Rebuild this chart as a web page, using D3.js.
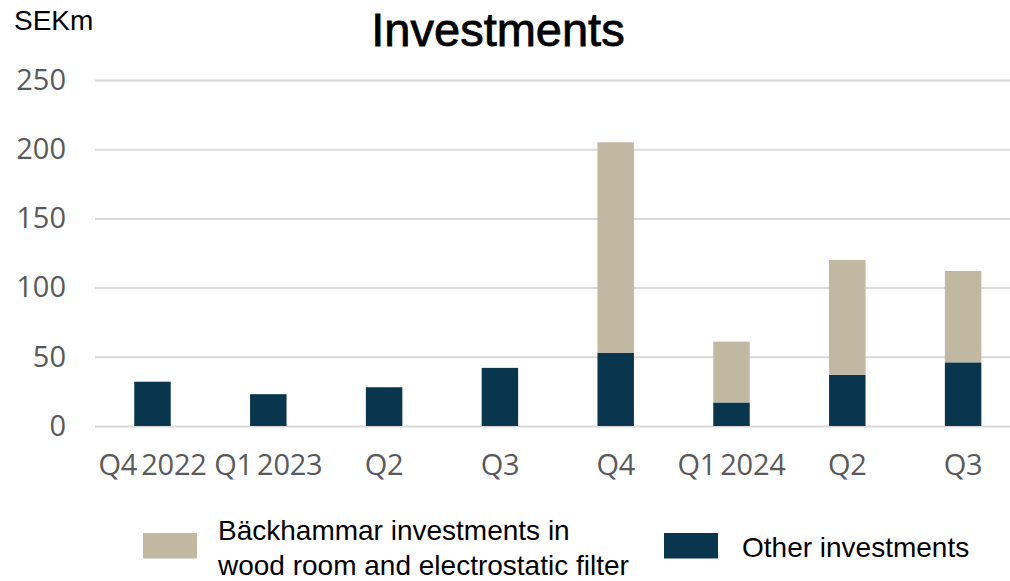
<!DOCTYPE html>
<html>
<head>
<meta charset="utf-8">
<script src="https://cdn.jsdelivr.net/npm/d3@7/dist/d3.min.js"></script>
<style>
  html, body { margin: 0; padding: 0; background: #fff; }
  svg { display: block; }
</style>
</head>
<body>
<svg id="chart" width="1010" height="581"></svg>
<script>
// Quarterly investments, SEKm
const quarters = ["Q4 2022", "Q1 2023", "Q2 2023", "Q3 2023", "Q4 2023", "Q1 2024", "Q2 2024", "Q3 2024"];
const quarterLabels = ["Q4 2022", "Q1 2023", "Q2", "Q3", "Q4", "Q1 2024", "Q2", "Q3"];
const otherInvestments = [32, 23, 28, 42, 53, 17, 37, 46];
const backhammarInvestments = [0, 0, 0, 0, 152, 44, 83, 66];
const yTicks = [0, 50, 100, 150, 200, 250];
const seriesKeys = ["other", "backhammar"];
const seriesNames = {
  backhammar: ["Bäckhammar investments in", "wood room and electrostatic filter"],
  other: ["Other investments"]
};

const rows = quarters.map((q, i) => ({
  quarter: q,
  other: otherInvestments[i],
  backhammar: backhammarInvestments[i]
}));

const svg = d3.select("#chart");
const W = 1010;

const x = d3.scaleBand()
  .domain(quarters)
  .range([94.6, 1021])
  .paddingInner(0.685)
  .paddingOuter(0.3425);

const y = d3.scaleLinear()
  .domain([0, 250])
  .range([426, 80]);

const color = d3.scaleOrdinal()
  .domain(seriesKeys)
  .range(["#0a364d", "#c0b8a0"]);

// Horizontal gridlines
svg.append("g")
  .attr("transform", "translate(95,0)")
  .call(d3.axisRight(y).tickValues(yTicks).tickSize(W - 95).tickFormat(""))
  .call(g => g.select(".domain").remove())
  .call(g => g.selectAll("line").attr("stroke", "#d9d9d9").attr("stroke-width", 2));

// Y axis labels
svg.append("g")
  .attr("transform", "translate(95,0)")
  .call(d3.axisLeft(y).tickValues(yTicks).tickSize(0).tickPadding(29))
  .call(g => g.select(".domain").remove())
  .call(g => g.selectAll("text")
    .attr("fill", "#595959")
    .style("font-family", "'Open Sans', sans-serif")
    .style("font-size", "29px"));

// Stacked bars
const stacked = d3.stack().keys(seriesKeys)(rows);
svg.append("g")
  .selectAll("g")
  .data(stacked)
  .join("g")
  .attr("fill", d => color(d.key))
  .selectAll("rect")
  .data(d => d.filter(s => s[1] > s[0]))
  .join("rect")
  .attr("x", d => x(d.data.quarter))
  .attr("width", x.bandwidth())
  .attr("y", d => y(d[1]))
  .attr("height", d => y(d[0]) - y(d[1]));

// X axis labels
svg.append("g")
  .attr("transform", "translate(0,426)")
  .call(d3.axisBottom(x).tickSize(0).tickPadding(28)
    .tickFormat((d, i) => quarterLabels[i]))
  .call(g => g.select(".domain").remove())
  .call(g => g.selectAll("text")
    .attr("fill", "#595959")
    .style("font-family", "'Open Sans', sans-serif")
    .style("font-size", "29px")
    .style("letter-spacing", "-0.3px")
    .style("word-spacing", "-3px"));

// Title and unit
svg.append("text")
  .attr("x", 498).attr("y", 46)
  .attr("text-anchor", "middle")
  .style("font-family", "'Liberation Sans', Arial, sans-serif")
  .style("font-size", "47px")
  .attr("fill", "#000")
  .attr("stroke", "#000")
  .attr("stroke-width", 0.8)
  .text("Investments");

svg.append("text")
  .attr("x", 14).attr("y", 30)
  .style("font-family", "'Liberation Sans', Arial, sans-serif")
  .style("font-size", "28px")
  .attr("fill", "#000")
  .text("SEKm");

// Legend
const legendItems = [
  { key: "backhammar", sx: 143, tx: 218 },
  { key: "other", sx: 664, tx: 742 }
];
const legend = svg.append("g")
  .selectAll("g")
  .data(legendItems)
  .join("g");

legend.append("rect")
  .attr("x", d => d.sx).attr("y", 533)
  .attr("width", 54).attr("height", 25.5)
  .attr("fill", d => color(d.key));

legend.append("text")
  .attr("x", d => d.tx)
  .attr("y", d => seriesNames[d.key].length > 1 ? 540 : 557)
  .style("font-family", "'Liberation Sans', Arial, sans-serif")
  .style("font-size", "28px")
  .attr("fill", "#000")
  .selectAll("tspan")
  .data(d => seriesNames[d.key].map(t => ({ t, tx: d.tx })))
  .join("tspan")
  .attr("x", d => d.tx)
  .attr("dy", (d, i) => i === 0 ? 0 : 34.5)
  .text(d => d.t);
</script>
</body>
</html>
